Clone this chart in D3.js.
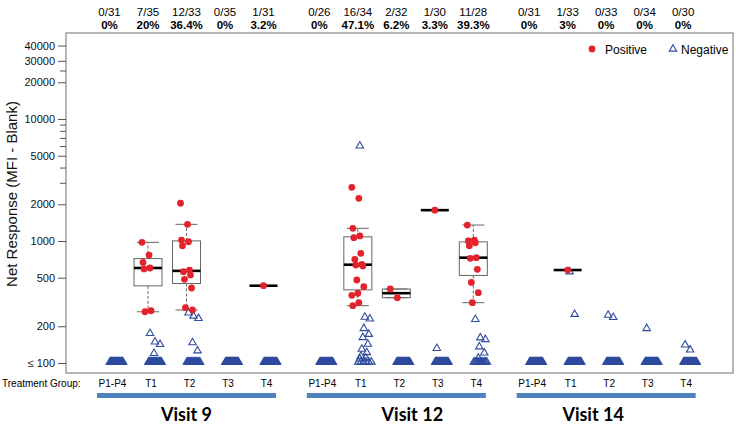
<!DOCTYPE html>
<html>
<head>
<meta charset="utf-8">
<script src="https://cdn.jsdelivr.net/npm/d3@7"></script>
<style>
	body { margin: 0; background: #fff; }
	text { font-family: 'Liberation Sans', Arial, sans-serif; }
</style>
</head>
<body>
<div id="chart"></div>
<script>
const visits = ['Visit 9', 'Visit 12', 'Visit 14'];
const groups = ['P1-P4', 'T1', 'T2', 'T3', 'T4'];
const totals = [[31, 35, 33, 35, 31], [26, 34, 32, 30, 28], [31, 33, 33, 34, 30]];
const pctLabels = [
	['0%', '20%', '36.4%', '0%', '3.2%'],
	['0%', '47.1%', '6.2%', '3.3%', '39.3%'],
	['0%', '3%', '0%', '0%', '0%']
];
// positive responders (net MFI), per visit, per group
const positive = [
	[[], [975, 767, 668, 601, 590, 268, 263], [2040, 1370, 1018, 986, 914, 578, 560, 526, 485, 412, 284, 272], [], [430]],
	[[], [2755, 2240, 1271, 1100, 1064, 793, 708, 644, 635, 624, 479, 422, 373, 359, 312, 295], [404, 343], [1790], [1352, 1018, 1000, 968, 914, 730, 721, 586, 458, 377, 312]],
	[[], [578], [], [], []]
];
// negatives above the floor; the rest sit at <= 100
const negative = [
	[[], [175, 149, 142, 120], [258, 243, 232, 147, 126], [], []],
	[[], [6030, 238, 230, 192, 172, 162, 143, 130, 122, 114, 110, 108], [], [132], [228, 161, 156, 136, 121, 110]],
	[[], [560, 251], [247, 237], [192], [141, 128]]
];
const yTicks = [100, 200, 500, 1000, 2000, 5000, 10000, 20000, 30000, 40000];
const yMinorTicks = [3000, 4000, 6000, 7000, 8000, 9000, 25000];
const floorValue = 100;

window.onload = function() {

	const width = 736;
	const height = 426;
	const plot = { left: 66, top: 33, right: 733, bottom: 373 };
	const groupGap = 5.45;
	const visitLabelShift = [0, 16, -13];

	const svg = d3.select('#chart')
		.append('svg')
		.attr('width', width)
		.attr('height', height)

	const xScale = d3.scaleLinear()
		.domain([0, 1])
		.range([109.5, 148])

	const yScale = d3.scaleLog()
		.domain([82.8, 50700])
		.range([plot.bottom, plot.top])

	// fivenum + whiskers the way R boxplot does it
	function boxStats(values) {
		const x = values.slice().sort((a, b) => a - b);
		const n = x.length;
		const n4 = Math.floor((n + 3) / 2) / 2;
		const d = [1, n4, (n + 1) / 2, n + 1 - n4, n];
		const q = d.map(v => 0.5 * (x[Math.floor(v) - 1] + x[Math.ceil(v) - 1]));
		const iqr = q[3] - q[1];
		const lo = d3.min(x.filter(v => v >= q[1] - 1.5 * iqr));
		const hi = d3.max(x.filter(v => v <= q[3] + 1.5 * iqr));
		return { lo: lo, q1: q[1], med: q[2], q3: q[3], hi: hi };
	}

	const cells = [];
	visits.forEach((visit, g) => {
		groups.forEach((group, i) => {
			cells.push({
				g: g,
				i: i,
				u: g * groupGap + i,
				pos: positive[g][i],
				neg: negative[g][i],
				nFloor: totals[g][i] - positive[g][i].length - negative[g][i].length,
				frac: positive[g][i].length + '/' + totals[g][i],
				pct: pctLabels[g][i]
			});
		});
	});

	// frame
	svg.append('rect')
		.attr('x', plot.left)
		.attr('y', plot.top)
		.attr('width', plot.right - plot.left)
		.attr('height', plot.bottom - plot.top)
		.attr('fill', 'none')
		.attr('stroke', '#6f6f6f')
		.attr('stroke-width', 1)

	// y axis
	const yAxis = d3.axisLeft(yScale)
		.tickValues(yTicks)
		.tickFormat(d => d === floorValue ? '\u2264 100' : d)
		.tickSize(8)
		.tickPadding(3)

	const yAxisG = svg.append('g')
		.attr('transform', `translate(${plot.left}, 0)`)
		.call(yAxis)
	yAxisG.select('.domain').remove();
	yAxisG.selectAll('line').attr('stroke', '#555');
	yAxisG.selectAll('text')
		.style('font-family', "'Liberation Sans', Arial, sans-serif")
		.style('font-size', '11px')
		.attr('fill', '#111')

	const yMinor = svg.append('g')
		.attr('transform', `translate(${plot.left}, 0)`)
		.call(d3.axisLeft(yScale).tickValues(yMinorTicks).tickFormat('').tickSize(6))
	yMinor.select('.domain').remove();
	yMinor.selectAll('line').attr('stroke', '#555');

	svg.append('text')
		.attr('transform', 'translate(17, 194) rotate(-90)')
		.attr('text-anchor', 'middle')
		.style('font-size', '15px')
		.attr('fill', '#111')
		.text('Net Response (MFI - Blank)')

	// header counts
	svg.selectAll('.frac')
		.data(cells)
		.enter()
		.append('text')
		.attr('x', d => xScale(d.u))
		.attr('y', 16)
		.attr('text-anchor', 'middle')
		.style('font-size', '11.5px')
		.text(d => d.frac)

	svg.selectAll('.pct')
		.data(cells)
		.enter()
		.append('text')
		.attr('x', d => xScale(d.u))
		.attr('y', 29)
		.attr('text-anchor', 'middle')
		.style('font-size', '11.5px')
		.style('font-weight', 'bold')
		.text(d => d.pct)

	// boxes
	const boxW = 14;
	const capW = 11;
	cells.filter(d => d.pos.length > 0).forEach(d => {
		const s = boxStats(d.pos);
		const cx = xScale(d.u);
		const gBox = svg.append('g');
		gBox.append('line')
			.attr('x1', cx).attr('x2', cx)
			.attr('y1', yScale(s.q3)).attr('y2', yScale(s.hi))
			.attr('stroke', '#666').attr('stroke-dasharray', '3,2')
		gBox.append('line')
			.attr('x1', cx).attr('x2', cx)
			.attr('y1', yScale(s.q1)).attr('y2', yScale(s.lo))
			.attr('stroke', '#666').attr('stroke-dasharray', '3,2')
		;[s.hi, s.lo].forEach(v => {
			gBox.append('line')
				.attr('x1', cx - capW).attr('x2', cx + capW)
				.attr('y1', yScale(v)).attr('y2', yScale(v))
				.attr('stroke', '#666')
		});
		gBox.append('rect')
			.attr('x', cx - boxW)
			.attr('y', yScale(s.q3))
			.attr('width', boxW * 2)
			.attr('height', yScale(s.q1) - yScale(s.q3))
			.attr('fill', 'none')
			.attr('stroke', '#666')
		gBox.append('line')
			.attr('x1', cx - boxW).attr('x2', cx + boxW)
			.attr('y1', yScale(s.med)).attr('y2', yScale(s.med))
			.attr('stroke', '#000').attr('stroke-width', 2.6)
	});

	const triangle = d3.symbol().type(d3.symbolTriangle).size(24);
	const blue = '#2f4b9e';

	// negatives at the floor
	cells.forEach(d => {
		const cx = xScale(d.u) + 7;
		const n = d.nFloor;
		svg.selectAll(null)
			.data(d3.range(n))
			.enter()
			.append('path')
			.attr('d', triangle)
			.attr('transform', k => `translate(${cx + (n > 1 ? (k / (n - 1) - 0.5) * 13 : 0)}, ${yScale(floorValue) - 1})`)
			.attr('fill', 'none')
			.attr('stroke', blue)
			.attr('stroke-width', 1.2)
	});

	// negatives above the floor
	cells.forEach(d => {
		svg.selectAll(null)
			.data(d.neg)
			.enter()
			.append('path')
			.attr('d', triangle)
			.attr('transform', (v, k) => `translate(${xScale(d.u) + 7 + ((k * 5) % 11 - 5)}, ${yScale(v)})`)
			.attr('fill', 'none')
			.attr('stroke', blue)
			.attr('stroke-width', 1.1)
	});

	// positives
	cells.forEach(d => {
		svg.selectAll(null)
			.data(d.pos)
			.enter()
			.append('circle')
			.attr('cx', (v, k) => xScale(d.u) + (d.pos.length > 1 ? ((k * 7) % 13 - 6) : 0))
			.attr('cy', v => yScale(v))
			.attr('r', 3.4)
			.attr('fill', '#e3232b')
	});

	// legend
	svg.append('circle')
		.attr('cx', 592).attr('cy', 49).attr('r', 3.4)
		.attr('fill', '#e3232b')
	svg.append('text')
		.attr('x', 605).attr('y', 53.5)
		.style('font-size', '12px')
		.text('Positive')
	svg.append('path')
		.attr('d', triangle)
		.attr('transform', 'translate(673, 49)')
		.attr('fill', 'none')
		.attr('stroke', blue)
		.attr('stroke-width', 1.1)
	svg.append('text')
		.attr('x', 681).attr('y', 53.5)
		.style('font-size', '12px')
		.text('Negative')

	// treatment group labels
	svg.append('text')
		.attr('x', 2).attr('y', 387)
		.style('font-size', '10px')
		.text('Treatment Group:')

	svg.selectAll('.grp')
		.data(cells)
		.enter()
		.append('text')
		.attr('x', d => xScale(d.u) + 3)
		.attr('y', 387)
		.attr('text-anchor', 'middle')
		.style('font-size', '10px')
		.text(d => groups[d.i])

	// visit bars and labels
	visits.forEach((visit, g) => {
		const x0 = xScale(g * groupGap - 0.325);
		const x1 = xScale(g * groupGap + 4.325);
		svg.append('rect')
			.attr('x', x0)
			.attr('y', 393)
			.attr('width', x1 - x0)
			.attr('height', 5)
			.attr('fill', '#4f81bd')
		svg.append('text')
			.attr('x', (x0 + x1) / 2 + visitLabelShift[g])
			.attr('y', 421)
			.attr('text-anchor', 'middle')
			.style('font-family', "Lato, 'Open Sans', sans-serif")
			.style('font-weight', 'bold')
			.style('font-size', '18px')
			.text(visit)
	});
}
</script>
</body>
</html>
